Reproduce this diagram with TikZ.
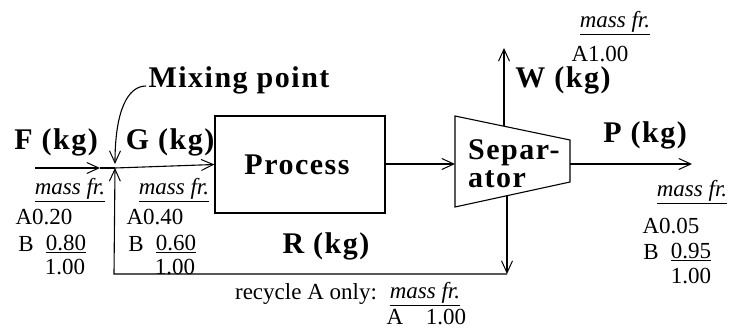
\documentclass[tikz,border=0pt]{standalone}
\usepackage{fontspec}
\setmainfont{Liberation Serif}
\newfontfamily\lblfont[LetterSpace=5]{Liberation Serif}
\usetikzlibrary{arrows.meta}
\tikzset{
  lbl/.style={font=\lblfont\bfseries\fontsize{30}{32}\selectfont, inner sep=0pt},
  txt/.style={font=\fontsize{23}{25}\selectfont, inner sep=0pt},
  mf/.style={font=\itshape\fontsize{23}{25}\selectfont, inner sep=0pt},
  arr/.style={-{Straight Barb[length=12pt,width=11pt,line width=1pt]}},
  ln/.style={line width=1.1pt, line join=miter}
}
\begin{document}
\begin{tikzpicture}[x=1pt,y=-1pt]
\useasboundingbox (0,0) rectangle (731,329);
% coordinates
\coordinate (mix) at (115,168);
\coordinate (fs) at (35,168);
\coordinate (fm) at (100,168);
\coordinate (s1) at (455,116);
\coordinate (s2) at (570,140);
\coordinate (s3) at (570,182);
\coordinate (s4) at (455,207);
\coordinate (sin) at (455,164);
\coordinate (sout) at (570,164);
\coordinate (pend) at (692,164);
\coordinate (wb) at (504,126);
\coordinate (wt) at (504,48);
\coordinate (rb) at (507,196);
\coordinate (rc) at (507,274);
\coordinate (rl) at (114,274);
\coordinate (mc) at (146,86);
\coordinate (mtip) at (115,164);
% process
\node[ln, draw, minimum width=170pt, minimum height=97pt, inner sep=0pt] (proc) at (300,164.5) {};
\node[lbl] (proct) at (297,165) {Process};
% separator
\draw[ln] (s1) -- (s2) -- (s3) -- (s4) -- cycle;
\node[lbl, anchor=west, align=left] (sept) at (468,164) {Separ-\\[-4pt]ator};
% streams
\draw[ln, arr] (fs) -- (fm);
\draw[ln] (fm) -- (mix);
\draw[ln, arr] (mix) -- (proc.west);
\draw[ln, arr] (proc.east |- sin) -- (sin);
\draw[ln, arr] (sout) -- (pend);
\draw[ln, arr] (wb) -- (wt);
\draw[ln, arr] (rb) -- (rc);
\draw[ln, arr] (rc) -- (rl) -- (mix);
\draw[ln, arr] (mc) .. controls (128,86) and (115,110) .. (mtip);
% labels
\node[lbl] (mixlbl) at (239,80) {Mixing point};
\node[lbl] (flbl) at (56,142) {F (kg)};
\node[lbl] (glbl) at (170,142) {G (kg)};
\node[lbl] (wlbl) at (563,80) {W (kg)};
\node[lbl] (plbl) at (645,135) {P (kg)};
\node[lbl] (rlbl) at (326,246) {R (kg)};
% F composition
\node[mf] (mff) at (70,190) {\underline{mass fr.}};
\node[txt] (af) at (44,217) {A0.20};
\node[txt] (bf) at (26,244) {B};
\node[txt] (nf) at (66,244) {\underline{0.80}};
\node[txt] (tf) at (65,267) {1.00};
% G composition
\node[mf] (mfg) at (174,190) {\underline{mass fr.}};
\node[txt] (ag) at (155,217) {A0.40};
\node[txt] (bg) at (136,244) {B};
\node[txt] (ng) at (176,244) {\underline{0.60}};
\node[txt] (tg) at (175,267) {1.00};
% W composition
\node[mf] (mfw) at (615,23) {\underline{mass fr.}};
\node[txt] (aw) at (600,54) {A1.00};
% P composition
\node[mf] (mfp) at (692,192) {\underline{mass fr.}};
\node[txt] (ap) at (671,226) {A0.05};
\node[txt] (bp) at (651,252) {B};
\node[txt] (np) at (691,252) {\underline{0.95}};
\node[txt] (tp) at (691,276) {1.00};
% recycle composition
\node[txt] (rtxt) at (306,294) {recycle A only:};
\node[mf] (mfr) at (425,294) {\underline{mass fr.}};
\node[txt] (ra) at (395,317) {A};
\node[txt] (rv) at (446,317) {1.00};
\end{tikzpicture}
\end{document}
